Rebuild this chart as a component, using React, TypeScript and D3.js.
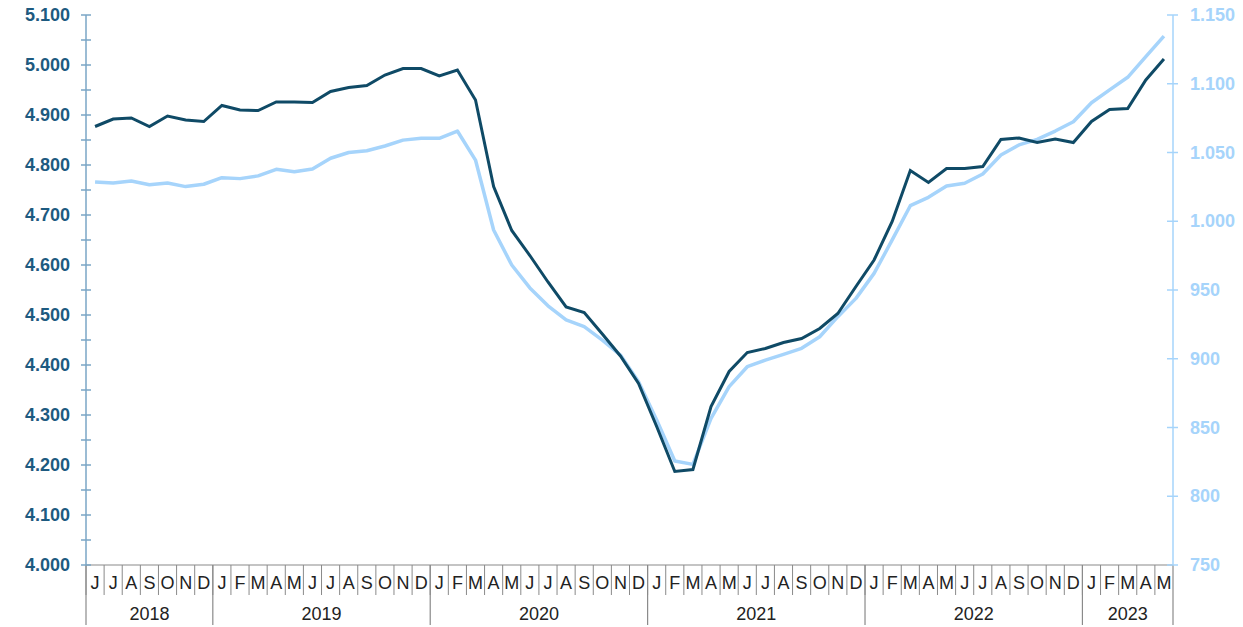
import React from "react";
import * as d3 from "d3";

const monthLabels: string[] = [
  "J", "J", "A", "S", "O", "N", "D",
  "J", "F", "M", "A", "M", "J", "J", "A", "S", "O", "N", "D",
  "J", "F", "M", "A", "M", "J", "J", "A", "S", "O", "N", "D",
  "J", "F", "M", "A", "M", "J", "J", "A", "S", "O", "N", "D",
  "J", "F", "M", "A", "M", "J", "J", "A", "S", "O", "N", "D",
  "J", "F", "M", "A", "M",
];
const yearLabels: string[] = ["2018", "2019", "2020", "2021", "2022", "2023"];
const monthsPerYear: number[] = [7, 12, 12, 12, 12, 5];

// left axis series (dark)
const seriesLeft: number[] = [
  4877, 4892, 4894, 4877, 4898, 4890, 4887,
  4919, 4910, 4909, 4926, 4926, 4925, 4947, 4955, 4959, 4980, 4993, 4993,
  4978, 4990, 4930, 4757, 4669, 4619, 4566, 4516, 4505, 4462, 4418, 4363,
  4277, 4187, 4191, 4317, 4387, 4425, 4433, 4445, 4453, 4473, 4503, 4557,
  4610, 4687, 4789, 4765, 4793, 4793, 4797, 4851, 4854, 4845, 4852, 4845,
  4887, 4911, 4913, 4970, 5012,
];
// right axis series (light)
const seriesRight: number[] = [
  1028.5, 1027.8, 1029.3, 1026.6, 1027.8, 1025.2, 1026.9,
  1031.7, 1031, 1033, 1037.8, 1036, 1038, 1045.8, 1050, 1051.3, 1054.7, 1059, 1060.3,
  1060.3, 1065.6, 1044.5, 993.6, 968.2, 951.5, 938.5, 928.2, 923.3, 913.6, 902.7, 883.3,
  855.5, 825.6, 823.2, 856.7, 879.7, 894.2, 899, 903.2, 907.6, 916, 930.6, 943.9,
  962.1, 986.4, 1011.3, 1017.4, 1025.6, 1027.6, 1034.4, 1048.2, 1055.5, 1059.6, 1065.6, 1072.4,
  1086.2, 1095.5, 1104.7, 1119.7, 1134.7,
];

const leftMajorTicks: number[] = [4000, 4100, 4200, 4300, 4400, 4500, 4600, 4700, 4800, 4900, 5000, 5100];
const leftMinorTicks: number[] = [4050, 4150, 4250, 4350, 4450, 4550, 4650, 4750, 4850, 4950, 5050];
const rightTicks: number[] = [750, 800, 850, 900, 950, 1000, 1050, 1100, 1150];

const W = 1243;
const H = 627;
const left = 86;
const right = 1173;
const top = 15;
const bottom = 565;

const DARK = "#0f4a66";
const LIGHT = "#a6d4fb";
const LEFT_AXIS = "#7aa6c6";
const LEFT_TEXT = "#1d5a80";
const GRID = "#8a8a8a";

const fmt = d3.formatLocale({ thousands: ".", decimal: ",", grouping: [3], currency: ["", ""] }).format(",");

export default function App() {
  const idx = monthLabels.map((_, i) => i);
  const x = d3.scaleBand<number>().domain(idx).range([left, right]).padding(0);
  const yL = d3.scaleLinear().domain([4000, 5100]).range([bottom, top]);
  const yR = d3.scaleLinear().domain([750, 1150]).range([bottom, top]);
  const cx = (i: number) => (x(i) as number) + x.bandwidth() / 2;

  const lineL = d3.line<number>().x((_, i) => cx(i)).y((d) => yL(d));
  const lineR = d3.line<number>().x((_, i) => cx(i)).y((d) => yR(d));

  // year boundaries
  const yearStarts: number[] = [];
  let acc = 0;
  monthsPerYear.forEach((n) => {
    yearStarts.push(acc);
    acc += n;
  });

  const font = "Arial, 'Liberation Sans', Helvetica, sans-serif";

  return (
    <svg width={W} height={H} style={{ position: "absolute", left: 0, top: 0, background: "#fff" }} fontFamily={font}>
      {/* month separators */}
      {idx.map((i) => (
        <line key={"ms" + i} x1={x(i) as number} x2={x(i) as number} y1={bottom} y2={595} stroke={GRID} strokeWidth={1} />
      ))}
      {/* year separators */}
      {yearStarts.map((s, k) => (
        <line key={"ys" + k} x1={x(s) as number} x2={x(s) as number} y1={bottom} y2={625} stroke={GRID} strokeWidth={1.2} />
      ))}
      <line x1={right} x2={right} y1={bottom} y2={625} stroke={GRID} strokeWidth={1.2} />
      {/* bottom axis line */}
      <line x1={left} x2={right} y1={bottom} y2={bottom} stroke={GRID} strokeWidth={1.2} />
      {/* month labels */}
      {monthLabels.map((m, i) => (
        <text key={"ml" + i} x={cx(i)} y={583} textAnchor="middle" dominantBaseline="central" fontSize={18} fill="#222">
          {m}
        </text>
      ))}
      {/* year labels */}
      {yearLabels.map((yl, k) => {
        const s = yearStarts[k];
        const e = s + monthsPerYear[k];
        const x0 = x(s) as number;
        const x1 = e >= idx.length ? right : (x(e) as number);
        return (
          <text key={"yl" + k} x={(x0 + x1) / 2} y={614} textAnchor="middle" dominantBaseline="central" fontSize={18} fill="#222">
            {yl}
          </text>
        );
      })}

      {/* left axis */}
      <line x1={left} x2={left} y1={top} y2={bottom} stroke={LEFT_AXIS} strokeWidth={1.5} />
      {leftMajorTicks.map((t) => (
        <g key={"lt" + t}>
          <line x1={left - 5} x2={left + 5} y1={yL(t)} y2={yL(t)} stroke={LEFT_AXIS} strokeWidth={1.5} />
          <text x={70} y={yL(t)} textAnchor="end" dominantBaseline="central" fontSize={18} fontWeight="bold" fill={LEFT_TEXT}>
            {fmt(t)}
          </text>
        </g>
      ))}
      {leftMinorTicks.map((t) => (
        <line key={"lm" + t} x1={left - 5} x2={left + 5} y1={yL(t)} y2={yL(t)} stroke={LEFT_AXIS} strokeWidth={1.5} />
      ))}

      {/* right axis */}
      <line x1={right} x2={right} y1={top} y2={bottom} stroke={LIGHT} strokeWidth={1.5} />
      {rightTicks.map((t) => (
        <g key={"rt" + t}>
          <line x1={right - 6} x2={right + 5} y1={yR(t)} y2={yR(t)} stroke={LIGHT} strokeWidth={1.5} />
          <text x={1190} y={yR(t)} textAnchor="start" dominantBaseline="central" fontSize={18} fontWeight="bold" fill={LIGHT}>
            {fmt(t)}
          </text>
        </g>
      ))}

      {/* series */}
      <path d={lineR(seriesRight) as string} fill="none" stroke={LIGHT} strokeWidth={3.5} strokeLinejoin="round" />
      <path d={lineL(seriesLeft) as string} fill="none" stroke={DARK} strokeWidth={3} strokeLinejoin="miter" />
    </svg>
  );
}
